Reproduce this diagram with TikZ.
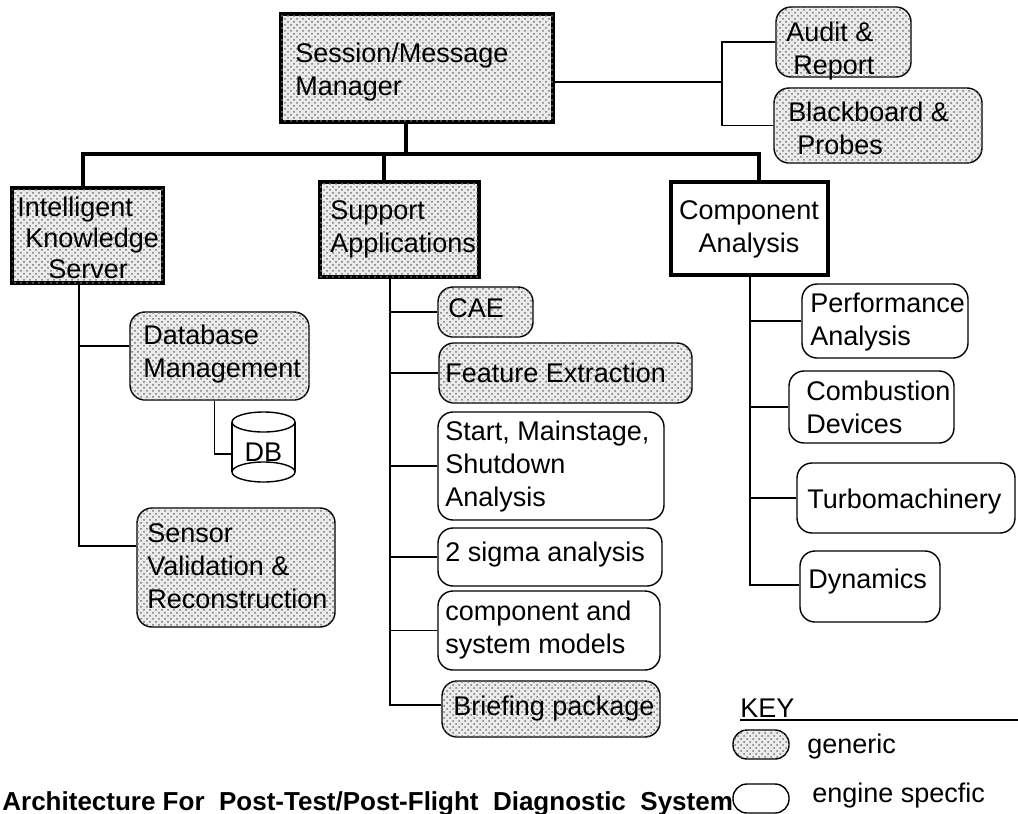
\documentclass[tikz,border=0pt]{standalone}
\usepackage{fontspec}
\setmainfont{Liberation Sans}
\usetikzlibrary{fit,patterns}
\begin{document}
\begin{tikzpicture}[x=0.5pt,y=-0.5pt,
  font=\fontsize{13.5}{16.5}\selectfont,
  every node/.style={inner sep=0pt},
  shade/.style={fill=black!8, postaction={pattern=crosshatch dots, pattern color=black!55}},
  thickbox/.style={draw, line width=1.6pt},
  roundbox/.style={draw, line width=0.7pt, rounded corners=7.5pt},
  gen/.style={roundbox, shade},
  eng/.style={roundbox, fill=white},
  txt/.style={anchor=north west, align=left},
  ctxt/.style={anchor=north, align=center},
  heavy/.style={line width=1.6pt},
  light/.style={line width=0.7pt}]
\clip (0,0) rectangle (1018,814);
\fill[white] (0,0) rectangle (1018,814);

% ---------- boxes ----------
\node[fit={(281,14) (553,122)}, thickbox, shade] (ssm) {};
\node[fit={(776,7) (911,77)}, gen] (audit) {};
\node[fit={(774,88) (982,163)}, gen] (bb) {};
\node[fit={(12,188) (163,283)}, thickbox, shade] (iks) {};
\node[fit={(320,182) (479,277)}, thickbox, shade] (sa) {};
\node[fit={(671,182) (828,275)}, thickbox, fill=white] (ca) {};
\node[fit={(130,312) (309,400)}, gen] (dbm) {};
\node[fit={(137,508) (335,627)}, gen] (sensor) {};
\node[fit={(438,287) (533,337)}, gen] (cae) {};
\node[fit={(439,343) (692,403)}, gen] (fe) {};
\node[fit={(438,412) (664,520)}, eng] (start) {};
\node[fit={(438,528) (662,586)}, eng] (sigma) {};
\node[fit={(438,591) (660,670)}, eng] (models) {};
\node[fit={(442,681) (660,737)}, gen] (brief) {};
\node[fit={(802,284) (968,358)}, eng] (perf) {};
\node[fit={(789,371) (954,443)}, eng] (comb) {};
\node[fit={(797,463) (1015,533)}, eng] (turbo) {};
\node[fit={(800,551) (940,622)}, eng] (dyn) {};
\node[fit={(733,730) (789,759)}, gen, rounded corners=7pt] (keyg) {};
\node[fit={(733,784) (789,813)}, eng, rounded corners=7pt] (keye) {};

% ---------- DB cylinder ----------
\draw[light] (232,422) -- (232,472) (295,422) -- (295,472);
\draw[light] (263.5,422) ellipse [x radius=31.5, y radius=10];
\draw[light] (263.5,472) ellipse [x radius=31.5, y radius=10];
\coordinate (dbl) at (232,454);
\node (db) at (263.5,452) {DB};

% ---------- texts ----------
\node[txt] (t-ssm) at (295,43) {Session/Message\\Manager};
\node[txt] (t-audit) at (786,22) {Audit \&\\\hspace*{3.5pt}Report};
\node[txt] (t-bb) at (788,102) {Blackboard \&\\\hspace*{4.5pt}Probes};
\node[txt, font=\fontsize{13.5}{15.5}\selectfont] (t-iks) at (17,197) {Intelligent\\\hspace*{4pt}Knowledge\\\hspace*{15.5pt}Server};
\node[txt] (t-sa) at (330,200) {Support\\Applications};
\node[ctxt] (t-ca) at (749,200) {Component\\Analysis};
\node[txt] (t-dbm) at (143,325) {Database\\Management};
\node[txt] (t-sensor) at (147,523) {Sensor\\Validation \&\\Reconstruction};
\node[txt] (t-cae) at (448,298) {CAE};
\node[txt] (t-fe) at (445,363) {Feature Extraction};
\node[txt] (t-start) at (445,421) {Start, Mainstage,\\Shutdown\\Analysis};
\node[txt] (t-sigma) at (445,542) {2 sigma analysis};
\node[txt] (t-models) at (445,601) {component and\\system models};
\node[txt] (t-brief) at (453,696) {Briefing package};
\node[txt] (t-perf) at (810,293) {Performance\\Analysis};
\node[txt] (t-comb) at (806,381) {Combustion\\Devices};
\node[txt] (t-turbo) at (807,489) {Turbomachinery};
\node[txt] (t-dyn) at (808,569) {Dynamics};
\node[anchor=base west] (key) at (740,717) {KEY};
\node[anchor=base west] (t-gen) at (807,753) {generic};
\node[anchor=base west] (t-eng) at (812,802) {engine specfic};
\node[anchor=base west, font=\bfseries\fontsize{13}{15}\selectfont] (cap) at (2,810)
  {Architecture For\ \ Post-Test/Post-Flight\ \ Diagnostic\ \ System};
\draw[light] (key.base west) ++(0,3) -- ++(278,0);

% ---------- heavy tree ----------
\coordinate (busL) at (83,154);
\coordinate (busR) at (759,154);
\coordinate (bm) at (406,154);
\coordinate (bs) at (384,154);
\draw[heavy] (busL |- iks.north) -- (busL) -- (busR) -- (busR |- ca.north);
\draw[heavy] (bm |- ssm.south) -- (bm);
\draw[heavy] (bs) -- (bs |- sa.north);

% ---------- manager to audit / blackboard ----------
\coordinate (mj) at (722,82);
\draw[light] (ssm.east |- mj) -- (mj);
\draw[light] (audit.west) -- (mj |- audit.west) -- (mj |- bb.west) -- (bb.west);

% ---------- intelligent knowledge server column ----------
\coordinate (ikT) at (79,546);
\coordinate (ikB) at (79,346);
\draw[light] (ikT |- iks.south) -- (ikT) -- (ikT -| sensor.west);
\draw[light] (ikB) -- (ikB -| dbm.west);
\draw[light] (dbm.south) ++(-5,0) |- (dbl);

% ---------- support applications column ----------
\coordinate (saT) at (390,705);
\draw[light] (saT |- sa.south) -- (saT) -- (saT -| brief.west);
\foreach \n in {cae,fe,start,sigma,models}
  \draw[light] (saT |- \n.west) -- (\n.west);

% ---------- component analysis column ----------
\coordinate (caT) at (750,585);
\draw[light] (caT |- ca.south) -- (caT) -- (caT -| dyn.west);
\foreach \n in {perf,comb,turbo}
  \draw[light] (caT |- \n.west) -- (\n.west);
\end{tikzpicture}
\end{document}
